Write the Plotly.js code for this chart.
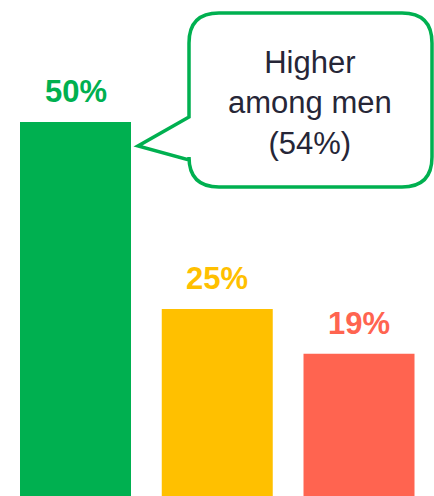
<!DOCTYPE html>
<html>
<head>
<meta charset="utf-8">
<script src="https://cdn.plot.ly/plotly-3.0.1.min.js"></script>
<style>html,body{margin:0;padding:0;background:#fff;}#chart{width:434px;height:496px;}</style>
</head>
<body>
<div id="chart"></div>
<script>
const categories = ["A", "B", "C"];
const values = [50, 25, 19];
const labels = ["50%", "25%", "19%"];
const colors = ["#00B050", "#FFC000", "#FF6450"];
const calloutText = "Higher<br>among men<br>(54%)";

const W = 434, H = 496;
const px = x => x / W;
const py = y => 1 - y / H;

// callout path in pixel coords -> paper coords
const L = 189, R = 432, T = 13, B = 187, r = 30;
const pts = [
  ["M", L + r, T], ["L", R - r, T], ["Q", R, T, R, T + r], ["L", R, B - r],
  ["Q", R, B, R - r, B], ["L", L + r, B], ["Q", L, B, L, B - r], ["L", L, 160],
  ["L", 138, 146], ["L", L, 117], ["L", L, T + r], ["Q", L, T, L + r, T]
];
let path = "";
pts.forEach(p => {
  if (p[0] === "Q") path += `Q${px(p[1])},${py(p[2])} ${px(p[3])},${py(p[4])} `;
  else path += `${p[0]}${px(p[1])},${py(p[2])} `;
});
path += "Z";

const xIdx = categories.map((c, i) => i);

const trace = {
  type: "bar",
  x: xIdx,
  y: values,
  width: 0.783,
  marker: {color: colors},
  hoverinfo: "none"
};

const annotations = xIdx.map((i, k) => ({
  x: i, y: values[k], xref: "x", yref: "y",
  text: "<b>" + labels[k] + "</b>",
  showarrow: false, yanchor: "bottom", yshift: 11,
  font: {family: "Liberation Sans, Arial, sans-serif", size: 31, color: colors[k]}
}));
annotations.push({
  x: px(310), y: py(103), xref: "paper", yref: "paper",
  text: calloutText, showarrow: false, xanchor: "center", yanchor: "middle",
  font: {family: "Liberation Sans, Arial, sans-serif", size: 31, color: "#262637"}
});

const layout = {
  width: W, height: H,
  margin: {l: 0, r: 0, t: 0, b: 0, pad: 0},
  paper_bgcolor: "#fff", plot_bgcolor: "#fff",
  showlegend: false,
  xaxis: {range: [-0.5326, 2.529], visible: false, fixedrange: true},
  yaxis: {range: [0, 66.3], visible: false, fixedrange: true},
  shapes: [{
    type: "path", xref: "paper", yref: "paper", path: path,
    line: {color: "#00B050", width: 3.5}, fillcolor: "#fff", layer: "above"
  }],
  annotations: annotations
};

Plotly.newPlot("chart", [trace], layout, {displayModeBar: false, staticPlot: true});
</script>
</body>
</html>
